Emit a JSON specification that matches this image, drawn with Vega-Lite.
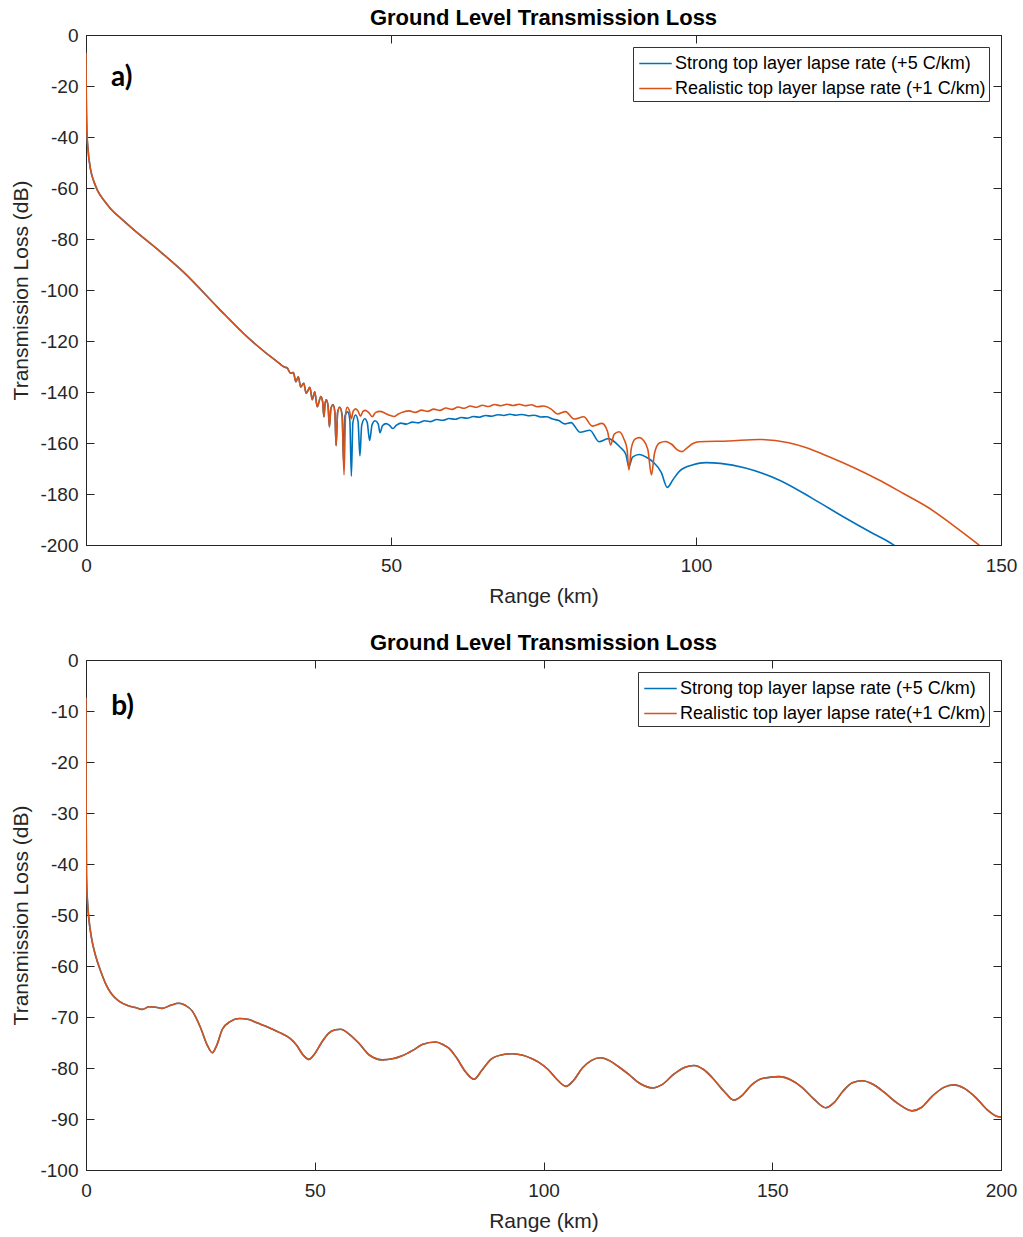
{
  "$schema": "https://vega.github.io/schema/vega-lite/v6.json",
  "background": "white",
  "padding": {"left": 10, "top": 6, "right": 5, "bottom": 0},
  "spacing": 24,
  "resolve": {"scale": {"x": "independent", "y": "independent", "color": "independent"}, "legend": {"color": "independent"}},
  "config": {
    "font": "Liberation Sans",
    "view": {"stroke": "#262626", "strokeWidth": 1},
    "axis": {"grid": false, "domain": true, "domainColor": "#262626", "tickColor": "#262626", "labelColor": "#262626", "titleColor": "#262626", "labelFont": "Liberation Sans", "titleFont": "Liberation Sans", "labelFontSize": 19, "titleFontSize": 21, "titleFontWeight": "normal", "tickSize": -8, "labelPadding": 16, "titlePadding": 8},
    "axisX": {"labelPadding": 19, "titlePadding": 10, "labelFlush": false},
    "title": {"fontSize": 22, "fontWeight": "bold", "color": "#000000", "font": "Liberation Sans", "offset": -4, "anchor": "middle"},
    "legend": {"orient": "top-right", "offset": 12, "symbolType": "M-1.3,0H1.3", "symbolSize": 625, "symbolStrokeWidth": 1.6, "symbolFillColor": "transparent", "symbolOffset": 6, "labelFontSize": 18, "labelFont": "Liberation Sans", "labelColor": "#000000", "labelLimit": 500, "strokeColor": "#333333", "fillColor": "white", "padding": 3, "rowPadding": 2, "labelOffset": 6}
  },
  "datasets": {
    "aS": [
      {"x": 0, "y": -7}, {"x": 0.05, "y": -25}, {"x": 0.15, "y": -38}, {"x": 0.3, "y": -44}, {"x": 0.77, "y": -53}, {"x": 1.3, "y": -57.5}, {"x": 1.9, "y": -61}, {"x": 3, "y": -65}, {"x": 4, "y": -68}, {"x": 6, "y": -72.5}, {"x": 7.9, "y": -76.5}, {"x": 11.7, "y": -84}, {"x": 16, "y": -93}, {"x": 21.5, "y": -106.6}, {"x": 26.7, "y": -119}, {"x": 31.6, "y": -128.6},
      {"x": 32.5, "y": -130.2}, {"x": 33.0, "y": -130.6}, {"x": 33.5, "y": -132.6}, {"x": 34.0, "y": -132.4}, {"x": 34.4, "y": -136}, {"x": 34.8, "y": -134}, {"x": 35.2, "y": -138}, {"x": 35.7, "y": -136.6}, {"x": 36.1, "y": -140.5}, {"x": 36.7, "y": -138.2}, {"x": 37.1, "y": -143}, {"x": 37.5, "y": -139.9}, {"x": 37.9, "y": -145.8}, {"x": 38.5, "y": -141.8}, {"x": 38.8, "y": -144}, {"x": 39.0, "y": -149.7}, {"x": 39.2, "y": -144.5}, {"x": 39.4, "y": -143.1}, {"x": 39.7, "y": -146}, {"x": 39.9, "y": -153.7}, {"x": 40.15, "y": -146.5}, {"x": 40.5, "y": -145}, {"x": 40.8, "y": -148}, {"x": 41.0, "y": -161}, {"x": 41.25, "y": -148}, {"x": 41.6, "y": -146},
      {"x": 42.0, "y": -149}, {"x": 42.2, "y": -167}, {"x": 42.45, "y": -149.5}, {"x": 42.9, "y": -147.8}, {"x": 43.25, "y": -151}, {"x": 43.5, "y": -173}, {"x": 43.75, "y": -152}, {"x": 44.2, "y": -149}, {"x": 44.6, "y": -151.5}, {"x": 44.9, "y": -165}, {"x": 45.2, "y": -153}, {"x": 45.7, "y": -150.5}, {"x": 46.1, "y": -152}, {"x": 46.5, "y": -159}, {"x": 46.9, "y": -152.8}, {"x": 47.4, "y": -151.3}, {"x": 47.9, "y": -152.5}, {"x": 48.2, "y": -156}, {"x": 48.6, "y": -153.2}, {"x": 49.2, "y": -152.4}, {"x": 49.8, "y": -153.2}, {"x": 50.3, "y": -154.3}, {"x": 50.9, "y": -153}, {"x": 51.6, "y": -152.2}, {"x": 52.5, "y": -152.6}, {"x": 53.5, "y": -151.8}, {"x": 54.5, "y": -152.1}, {"x": 55.5, "y": -151.3}, {"x": 56.5, "y": -151.6}, {"x": 57.5, "y": -150.8}, {"x": 58.5, "y": -151.1}, {"x": 59.5, "y": -150.4}, {"x": 60.5, "y": -150.7}, {"x": 61.5, "y": -150}, {"x": 62.5, "y": -150.3}, {"x": 63.5, "y": -149.6}, {"x": 64.5, "y": -149.9}, {"x": 65.5, "y": -149.2}, {"x": 66.5, "y": -149.5}, {"x": 67.5, "y": -148.9}, {"x": 68.5, "y": -149.2}, {"x": 69.5, "y": -148.7}, {"x": 70.5, "y": -149.1}, {"x": 71.5, "y": -148.8}, {"x": 72.5, "y": -149.3}, {"x": 73.5, "y": -149.1}, {"x": 74.5, "y": -149.8}, {"x": 75.5, "y": -149.7}, {"x": 76.5, "y": -150.6}, {"x": 77.5, "y": -151.2}, {"x": 78.5, "y": -152.5}, {"x": 79.5, "y": -152}, {"x": 81.0, "y": -155.8}, {"x": 82.6, "y": -155}, {"x": 84.1, "y": -159.5}, {"x": 85.6, "y": -158.3}, {"x": 87.5, "y": -161.5}, {"x": 88.5, "y": -164.5}, {"x": 89.0, "y": -169.3}, {"x": 89.6, "y": -165.5}, {"x": 90.7, "y": -164.5}, {"x": 91.8, "y": -165.5}, {"x": 93.0, "y": -167.5}, {"x": 94.3, "y": -171.5}, {"x": 95.3, "y": -177.4}, {"x": 96.2, "y": -174.5}, {"x": 97.3, "y": -171}, {"x": 98.3, "y": -169.5}, {"x": 99.4, "y": -168.6}, {"x": 101.6, "y": -167.7}, {"x": 104, "y": -168}, {"x": 108.1, "y": -169.8}, {"x": 113.6, "y": -174.5}, {"x": 119, "y": -181.6}, {"x": 124.5, "y": -189.4}, {"x": 128.5, "y": -194.8}, {"x": 131.9, "y": -199.2}, {"x": 133, "y": -201}
    ],
    "aR": [
      {"x": 0, "y": -7}, {"x": 0.05, "y": -25}, {"x": 0.15, "y": -38}, {"x": 0.3, "y": -44}, {"x": 0.77, "y": -53}, {"x": 1.3, "y": -57.5}, {"x": 1.9, "y": -61}, {"x": 3, "y": -65}, {"x": 4, "y": -68}, {"x": 6, "y": -72.5}, {"x": 7.9, "y": -76.5}, {"x": 11.7, "y": -84}, {"x": 16, "y": -93}, {"x": 21.5, "y": -106.6}, {"x": 26.7, "y": -119}, {"x": 31.6, "y": -128.6},
      {"x": 32.5, "y": -130.2}, {"x": 33.0, "y": -130.6}, {"x": 33.5, "y": -132.6}, {"x": 34.0, "y": -132.4}, {"x": 34.4, "y": -136}, {"x": 34.8, "y": -134}, {"x": 35.2, "y": -138}, {"x": 35.7, "y": -136.6}, {"x": 36.1, "y": -140.5}, {"x": 36.7, "y": -138.2}, {"x": 37.1, "y": -143}, {"x": 37.5, "y": -139.9}, {"x": 37.9, "y": -145.8}, {"x": 38.5, "y": -141.8}, {"x": 38.8, "y": -144}, {"x": 39.0, "y": -149.7}, {"x": 39.2, "y": -144.5}, {"x": 39.4, "y": -143.1}, {"x": 39.7, "y": -146}, {"x": 39.9, "y": -153.7}, {"x": 40.15, "y": -146.5}, {"x": 40.5, "y": -145}, {"x": 40.8, "y": -148}, {"x": 41.0, "y": -161}, {"x": 41.25, "y": -148}, {"x": 41.6, "y": -146},
      {"x": 42.0, "y": -150}, {"x": 42.3, "y": -172.5}, {"x": 42.55, "y": -149}, {"x": 42.8, "y": -146}, {"x": 43.2, "y": -147.5}, {"x": 43.5, "y": -150.5}, {"x": 43.8, "y": -147.5}, {"x": 44.2, "y": -146.6}, {"x": 44.6, "y": -147.5}, {"x": 45.0, "y": -149.5}, {"x": 45.4, "y": -147.6}, {"x": 45.8, "y": -147.2}, {"x": 46.4, "y": -148.2}, {"x": 46.9, "y": -149.7}, {"x": 47.5, "y": -148}, {"x": 48.2, "y": -147.6}, {"x": 49.0, "y": -148.3}, {"x": 49.6, "y": -149}, {"x": 50.5, "y": -149.6}, {"x": 51.2, "y": -148.6}, {"x": 52, "y": -147.8}, {"x": 53, "y": -147.4}, {"x": 54, "y": -148}, {"x": 55, "y": -147.1}, {"x": 56, "y": -147.6}, {"x": 57, "y": -146.7}, {"x": 58, "y": -147.2}, {"x": 59, "y": -146.3}, {"x": 60, "y": -146.8}, {"x": 61, "y": -145.9}, {"x": 62, "y": -146.4}, {"x": 63, "y": -145.5}, {"x": 64, "y": -146}, {"x": 65, "y": -145.2}, {"x": 66, "y": -145.7}, {"x": 67, "y": -144.9}, {"x": 68, "y": -145.4}, {"x": 69, "y": -144.8}, {"x": 70, "y": -145.3}, {"x": 71, "y": -144.8}, {"x": 72, "y": -145.4}, {"x": 73, "y": -145}, {"x": 74, "y": -145.8}, {"x": 75, "y": -145.5}, {"x": 76.2, "y": -146.6}, {"x": 77.3, "y": -148.6}, {"x": 78.6, "y": -147.7}, {"x": 80.0, "y": -150.6}, {"x": 81.6, "y": -149.7}, {"x": 83.0, "y": -153.4}, {"x": 84.6, "y": -152.3}, {"x": 85.5, "y": -155.5}, {"x": 86.0, "y": -160.8}, {"x": 86.6, "y": -156.5}, {"x": 87.4, "y": -155.6}, {"x": 88.2, "y": -158.5}, {"x": 88.7, "y": -162.5}, {"x": 89.0, "y": -170.6}, {"x": 89.4, "y": -162}, {"x": 90.0, "y": -158.5}, {"x": 90.7, "y": -157.9}, {"x": 91.4, "y": -159}, {"x": 92.1, "y": -162.5}, {"x": 92.7, "y": -172.5}, {"x": 93.2, "y": -164}, {"x": 94.0, "y": -160}, {"x": 95.0, "y": -159.4}, {"x": 96.0, "y": -160.5}, {"x": 97.0, "y": -162.8}, {"x": 97.7, "y": -163.4}, {"x": 98.5, "y": -162}, {"x": 99.5, "y": -160.2}, {"x": 100.5, "y": -159.5}, {"x": 105.4, "y": -159.2}, {"x": 110.3, "y": -158.6}, {"x": 115.2, "y": -159.9}, {"x": 118, "y": -161.8}, {"x": 121.8, "y": -165.4}, {"x": 126, "y": -169.8}, {"x": 130, "y": -174.5}, {"x": 134, "y": -179.8}, {"x": 138.2, "y": -185.5}, {"x": 142, "y": -192}, {"x": 146, "y": -199.3}, {"x": 147, "y": -201.2}
    ],
    "b": [
      {"x": 0, "y": -7.4}, {"x": 0.02, "y": -20}, {"x": 0.05, "y": -32}, {"x": 0.1, "y": -42}, {"x": 0.3, "y": -47}, {"x": 0.66, "y": -51}, {"x": 1.2, "y": -54.5}, {"x": 2.1, "y": -58}, {"x": 3.2, "y": -61}, {"x": 4.3, "y": -63.5}, {"x": 5.6, "y": -65.5}, {"x": 7.2, "y": -66.9}, {"x": 9.3, "y": -67.8}, {"x": 11.0, "y": -68.2}, {"x": 12.3, "y": -68.5}, {"x": 13.8, "y": -68.0}, {"x": 15.3, "y": -68.1}, {"x": 16.7, "y": -68.3}, {"x": 18.5, "y": -67.7}, {"x": 20.3, "y": -67.3}, {"x": 21.7, "y": -67.7}, {"x": 23.2, "y": -68.8}, {"x": 25.0, "y": -72}, {"x": 26.5, "y": -75.5}, {"x": 27.6, "y": -77}, {"x": 28.6, "y": -75.5}, {"x": 29.8, "y": -72.4}, {"x": 31.5, "y": -70.9}, {"x": 33.5, "y": -70.3}, {"x": 35.6, "y": -70.5}, {"x": 37.5, "y": -71.2}, {"x": 39.3, "y": -71.8}, {"x": 41, "y": -72.5}, {"x": 42.9, "y": -73.3}, {"x": 44.6, "y": -74.2}, {"x": 46, "y": -75.5}, {"x": 47.5, "y": -77.5}, {"x": 48.7, "y": -78.3}, {"x": 50, "y": -77.2}, {"x": 51.5, "y": -75}, {"x": 53, "y": -73.2}, {"x": 54.5, "y": -72.5}, {"x": 55.7, "y": -72.4}, {"x": 57.3, "y": -73.2}, {"x": 59.7, "y": -75.2}, {"x": 62, "y": -77.5}, {"x": 64.8, "y": -78.4}, {"x": 67, "y": -78.2}, {"x": 69.1, "y": -77.6}, {"x": 71.5, "y": -76.5}, {"x": 73.5, "y": -75.4}, {"x": 76.4, "y": -74.9}, {"x": 78.2, "y": -75.5}, {"x": 79.3, "y": -76.1}, {"x": 81, "y": -78}, {"x": 83, "y": -80.8}, {"x": 84.8, "y": -82.2}, {"x": 86.5, "y": -80.5}, {"x": 88.5, "y": -78.3}, {"x": 91, "y": -77.4}, {"x": 93.2, "y": -77.2}, {"x": 95.5, "y": -77.5}, {"x": 97.5, "y": -78.2}, {"x": 99, "y": -78.9}, {"x": 101, "y": -80.3}, {"x": 103, "y": -82.3}, {"x": 104.9, "y": -83.6}, {"x": 106.5, "y": -82.5}, {"x": 108.5, "y": -80}, {"x": 110.5, "y": -78.5}, {"x": 112.5, "y": -78}, {"x": 114.5, "y": -78.6}, {"x": 116.5, "y": -79.8}, {"x": 118.7, "y": -81.3}, {"x": 121, "y": -83}, {"x": 123.8, "y": -83.9}, {"x": 126, "y": -83.2}, {"x": 128.5, "y": -81.2}, {"x": 130.8, "y": -79.9}, {"x": 132.9, "y": -79.5}, {"x": 135, "y": -80.3}, {"x": 137, "y": -82}, {"x": 139.5, "y": -84.6}, {"x": 141.6, "y": -86.3}, {"x": 143.5, "y": -85.3}, {"x": 145.5, "y": -83.3}, {"x": 148, "y": -82}, {"x": 151.5, "y": -81.7}, {"x": 154, "y": -82.3}, {"x": 156.5, "y": -83.8}, {"x": 159, "y": -86}, {"x": 161.7, "y": -87.8}, {"x": 163.5, "y": -86.8}, {"x": 165.5, "y": -84.5}, {"x": 167.5, "y": -82.9}, {"x": 169.7, "y": -82.5}, {"x": 172, "y": -83.2}, {"x": 174.5, "y": -84.8}, {"x": 177.5, "y": -87}, {"x": 180.6, "y": -88.4}, {"x": 182.5, "y": -87.8}, {"x": 185, "y": -85.5}, {"x": 187.5, "y": -83.8}, {"x": 189.7, "y": -83.3}, {"x": 192, "y": -84}, {"x": 194.5, "y": -85.8}, {"x": 197, "y": -88.2}, {"x": 199.2, "y": -89.5}, {"x": 200, "y": -89.6}
    ]
  },
  "vconcat": [
    {
      "width": 915,
      "height": 510,
      "title": "Ground Level Transmission Loss",
      "resolve": {"axis": {"x": "independent", "y": "independent"}},
      "layer": [
        {
          "data": {"name": "aS"},
          "mark": {"type": "line", "clip": true, "strokeWidth": 1.6, "interpolate": "monotone"},
          "encoding": {
            "x": {"field": "x", "type": "quantitative", "scale": {"domain": [0, 150], "nice": false}, "axis": {"orient": "bottom", "title": "Range (km)", "values": [0, 50, 100, 150]}},
            "y": {"field": "y", "type": "quantitative", "scale": {"domain": [-200, 0], "nice": false}, "axis": {"orient": "left", "title": "Transmission Loss (dB)", "values": [0, -20, -40, -60, -80, -100, -120, -140, -160, -180, -200], "labelExpr": "'' + datum.value"}},
            "color": {"datum": "S", "type": "nominal", "scale": {"domain": ["S", "R"], "range": ["#0072BD", "#D95319"]}, "legend": {"title": null, "labelExpr": "datum.label == 'S' ? 'Strong top layer lapse rate (+5 C/km)' : 'Realistic top layer lapse rate (+1 C/km)'"}}
          }
        },
        {
          "data": {"name": "aR"},
          "mark": {"type": "line", "clip": true, "strokeWidth": 1.6, "interpolate": "monotone"},
          "encoding": {
            "x": {"field": "x", "type": "quantitative", "axis": null},
            "y": {"field": "y", "type": "quantitative", "axis": null},
            "color": {"datum": "R", "type": "nominal"}
          }
        },
        {
          "data": {"values": [{"x": 4.1, "y": -17, "t": "a)"}]},
          "mark": {"type": "text", "font": "Lato", "fontWeight": "bold", "fontSize": 28, "align": "left", "baseline": "middle", "color": "#000000"},
          "encoding": {
            "x": {"field": "x", "type": "quantitative", "axis": {"orient": "top", "labels": false, "title": null, "values": [0, 50, 100, 150]}},
            "y": {"field": "y", "type": "quantitative", "axis": {"orient": "right", "labels": false, "title": null, "values": [0, -20, -40, -60, -80, -100, -120, -140, -160, -180, -200]}},
            "text": {"field": "t"}
          }
        }
      ]
    },
    {
      "width": 915,
      "height": 510,
      "title": "Ground Level Transmission Loss",
      "resolve": {"axis": {"x": "independent", "y": "independent"}},
      "layer": [
        {
          "data": {"name": "b"},
          "mark": {"type": "line", "clip": true, "strokeWidth": 1.6, "interpolate": "monotone"},
          "encoding": {
            "x": {"field": "x", "type": "quantitative", "scale": {"domain": [0, 200], "nice": false}, "axis": {"orient": "bottom", "title": "Range (km)", "values": [0, 50, 100, 150, 200]}},
            "y": {"field": "y", "type": "quantitative", "scale": {"domain": [-100, 0], "nice": false}, "axis": {"orient": "left", "title": "Transmission Loss (dB)", "values": [0, -10, -20, -30, -40, -50, -60, -70, -80, -90, -100], "labelExpr": "'' + datum.value"}},
            "color": {"datum": "S", "type": "nominal", "scale": {"domain": ["S", "R"], "range": ["#0072BD", "#D95319"]}, "legend": {"title": null, "labelExpr": "datum.label == 'S' ? 'Strong top layer lapse rate (+5 C/km)' : 'Realistic top layer lapse rate(+1 C/km)'"}}
          }
        },
        {
          "data": {"name": "b"},
          "mark": {"type": "line", "clip": true, "strokeWidth": 1.6, "interpolate": "monotone"},
          "encoding": {
            "x": {"field": "x", "type": "quantitative", "axis": null},
            "y": {"field": "y", "type": "quantitative", "axis": null},
            "color": {"datum": "R", "type": "nominal"}
          }
        },
        {
          "data": {"values": [{"x": 5.5, "y": -9.2, "t": "b)"}]},
          "mark": {"type": "text", "font": "Lato", "fontWeight": "bold", "fontSize": 28, "align": "left", "baseline": "middle", "color": "#000000"},
          "encoding": {
            "x": {"field": "x", "type": "quantitative", "axis": {"orient": "top", "labels": false, "title": null, "values": [0, 50, 100, 150, 200]}},
            "y": {"field": "y", "type": "quantitative", "axis": {"orient": "right", "labels": false, "title": null, "values": [0, -10, -20, -30, -40, -50, -60, -70, -80, -90, -100]}},
            "text": {"field": "t"}
          }
        }
      ]
    }
  ]
}
